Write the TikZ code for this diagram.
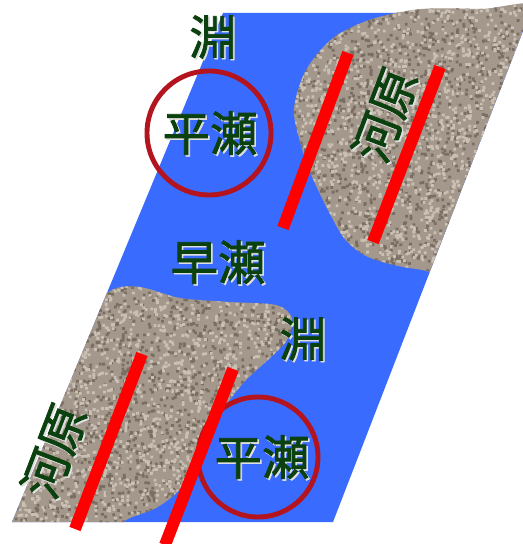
\documentclass[tikz,border=0pt]{standalone}
\usepackage{fontspec}
\newfontfamily\jpfont[FakeBold=1.6]{Noto Sans CJK JP}
\definecolor{river}{HTML}{3A6BFF}
\definecolor{gravel}{HTML}{A4988C}
\definecolor{gravdark}{HTML}{7A6D61}
\definecolor{gravlight}{HTML}{CABFB3}
\definecolor{kanji}{HTML}{0B400F}
\definecolor{ringred}{HTML}{B3141E}
\tikzset{
  lbl/.style={text=kanji, font=\jpfont\fontsize{27}{27}\selectfont, inner sep=0pt},
  lblshade/.style={text=white!75!gray, font=\jpfont\fontsize{27}{27}\selectfont, inner sep=0pt},
  bank/.style={red, line width=6.8pt},
  circ/.style={ringred, line width=2.8pt},
}
% label with a light shade behind it
\newcommand{\kanjinode}[4]{%
  \node[lblshade, rotate=#4] (#1s) at ($(#2)+(1.6,1.6)$) {#3};
  \node[lbl, rotate=#4] (#1) at (#2) {#3};}
\usetikzlibrary{calc}
\begin{document}
\begin{tikzpicture}[x={(0.02cm,0)}, y={(0,-0.02cm)}]
    \useasboundingbox (0,0) rectangle (522,544);
    % river
    \fill [river] (223,13) -- (530,13) -- (333,522) -- (12,522) -- cycle;
    % upper gravel bank
    \pgfmathsetseed{41}
    \begin{scope}
        \clip (200,0) -- (535,0) -- (333,522) -- (0,522) -- cycle;
        \clip plot [smooth cycle] coordinates {(333,38) (372,19) (422,9) (480,9) (560,12) (570,150) (470,290) (430,272) (398,266) (366,256) (344,238) (326,206) (310,172) (299,138) (294,108) (306,70)};
        \fill [gravel] (280,0) rectangle (540,290);
        \fill [gravdark] foreach \i in {1,...,1800} {(280+260*rnd,290*rnd) rectangle ++(2.8,2.8)};
        \fill [gravlight] foreach \i in {1,...,1800} {(280+260*rnd,290*rnd) rectangle ++(2.8,2.8)};
    \end{scope}
    % lower gravel bank
    \begin{scope}
        \clip (228,0) -- (600,0) -- (600,522) -- (12,522) -- cycle;
        \clip plot [smooth cycle] coordinates {(60,330) (110,291) (140,287) (180,298) (230,302) (276,305) (292,318) (287,340) (270,358) (246,380) (226,405) (208,435) (194,462) (179,490) (156,508) (126,520) (100,540) (0,545) (0,420)};
        \fill [gravel] (0,280) rectangle (300,530);
        \fill [gravdark] foreach \i in {1,...,1800} {(300*rnd,280+250*rnd) rectangle ++(2.8,2.8)};
        \fill [gravlight] foreach \i in {1,...,1800} {(300*rnd,280+250*rnd) rectangle ++(2.8,2.8)};
    \end{scope}
    % circles round the flat reaches
    \draw [circ] (209,133) circle (62);
    \draw [circ] (258,457) circle (60);
    % red lines along the banks
    \draw [bank] (348,53) -- (283,228);
    \draw [bank] (440,67) -- (373,242);
    \draw [bank] (142,354) -- (75,529);
    \draw [bank] (233,369) -- (165,545);
    % labels
    \kanjinode{fuchiA}{213,37}{淵}{0}
    \kanjinode{hiraA}{210,133}{平瀬}{0}
    \kanjinode{haya}{218,262}{早瀬}{0}
    \kanjinode{fuchiB}{303,339}{淵}{0}
    \kanjinode{hiraB}{262,457}{平瀬}{0}
    \kanjinode{kawaraA}{385,115}{河原}{69}
    \kanjinode{kawaraB}{54,451}{河原}{69}
\end{tikzpicture}
\end{document}
